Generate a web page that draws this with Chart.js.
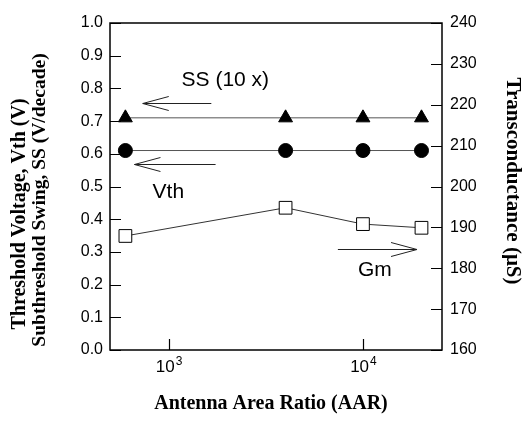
<!DOCTYPE html>
<html>
<head>
<meta charset="utf-8">
<script src="https://cdn.jsdelivr.net/npm/chart.js@4/dist/chart.umd.min.js"></script>
<style>
  html, body { margin: 0; padding: 0; background: #fff; }
  #wrap { width: 527px; height: 424px; }
</style>
</head>
<body>
<div id="wrap"><canvas id="chart"></canvas></div>
<script>
// antenna area ratio of each device
const aar = [600, 4000, 10000, 20000];
// subthreshold swing (x10), threshold voltage, transconductance
const ssValues = [0.71, 0.71, 0.71, 0.71];
const vthValues = [0.61, 0.61, 0.61, 0.61];
const gmValues = [187.9, 194.8, 190.8, 189.9];

const xTickValues = [1000, 10000];
const xTickBase = ['10', '10'];
const xTickExp = ['3', '4'];
const leftTicks = [0, 0.1, 0.2, 0.3, 0.4, 0.5, 0.6, 0.7, 0.8, 0.9, 1.0];
const rightTicks = [160, 170, 180, 190, 200, 210, 220, 230, 240];

// annotation labels and arrows (data coords)
const noteTexts = ['SS (10 x)', 'Vth', 'Gm'];
const noteX = [1167, 828, 9418];
const noteY = [0.826, 0.483, 179.6];
const noteAxis = ['y', 'y', 'y2'];
const arrowFromX = [1660, 1746, 7431];
const arrowToX = [737, 668, 18970];
const arrowY = [0.754, 0.569, 184.7];
const arrowAxis = ['y', 'y', 'y2'];

const sansFont = '"Liberation Sans", Arial, Helvetica, sans-serif';
const serifFont = '"Liberation Serif", "Times New Roman", Times, serif';

const toPoints = function (vals) {
    return aar.map((x, i) => ({ x: x, y: vals[i] }));
};

const framePlugin = {
    id: 'frame',
    afterDatasetsDraw(chart) {
        const ctx = chart.ctx;
        const a = chart.chartArea;
        const xs = chart.scales.x;
        const yl = chart.scales.y;
        const yr = chart.scales.y2;
        ctx.save();
        ctx.strokeStyle = '#000';
        ctx.lineWidth = 1.5;
        ctx.strokeRect(a.left, a.top, a.right - a.left, a.bottom - a.top);

        // inward ticks
        ctx.lineWidth = 1.2;
        ctx.beginPath();
        for (const v of leftTicks) {
            const y = Math.round(yl.getPixelForValue(v)) + 0.5;
            ctx.moveTo(a.left, y);
            ctx.lineTo(a.left + 11, y);
        }
        for (const v of rightTicks) {
            const y = Math.round(yr.getPixelForValue(v)) + 0.5;
            ctx.moveTo(a.right, y);
            ctx.lineTo(a.right - 11, y);
        }
        for (const v of xTickValues) {
            const x = Math.round(xs.getPixelForValue(v)) + 0.5;
            ctx.moveTo(x, a.bottom);
            ctx.lineTo(x, a.bottom - 11);
        }
        ctx.stroke();

        // x tick labels with superscript
        ctx.fillStyle = '#000';
        ctx.textBaseline = 'alphabetic';
        xTickValues.forEach((v, i) => {
            const x = xs.getPixelForValue(v);
            ctx.font = '17px ' + sansFont;
            const w1 = ctx.measureText(xTickBase[i]).width;
            ctx.font = '12px ' + sansFont;
            const w2 = ctx.measureText(xTickExp[i]).width;
            const start = x - (w1 + w2) / 2;
            ctx.font = '17px ' + sansFont;
            ctx.textAlign = 'left';
            ctx.fillText(xTickBase[i], start, a.bottom + 22);
            ctx.font = '12px ' + sansFont;
            ctx.fillText(xTickExp[i], start + w1 + 1, a.bottom + 15);
        });

        // annotations
        ctx.font = '21px ' + sansFont;
        ctx.textAlign = 'left';
        ctx.textBaseline = 'middle';
        noteTexts.forEach((t, i) => {
            const sc = chart.scales[noteAxis[i]];
            ctx.fillText(t, xs.getPixelForValue(noteX[i]), sc.getPixelForValue(noteY[i]));
        });
        ctx.strokeStyle = '#222';
        ctx.lineWidth = 1;
        arrowFromX.forEach((fx, i) => {
            const sc = chart.scales[arrowAxis[i]];
            const y = Math.round(sc.getPixelForValue(arrowY[i])) + 0.5;
            const x0 = xs.getPixelForValue(fx);
            const x1 = xs.getPixelForValue(arrowToX[i]);
            const dir = x1 > x0 ? 1 : -1;
            ctx.beginPath();
            ctx.moveTo(x0, y);
            ctx.lineTo(x1, y);
            ctx.moveTo(x1 - dir * 26, y - 7);
            ctx.lineTo(x1, y);
            ctx.lineTo(x1 - dir * 26, y + 7);
            ctx.stroke();
        });

        // axis titles
        ctx.font = 'bold 20px ' + serifFont;
        ctx.textAlign = 'center';
        ctx.textBaseline = 'middle';
        ctx.fillText('Antenna Area Ratio (AAR)', 271, 404);

        ctx.save();
        ctx.rotate(-Math.PI / 2);
        ctx.font = 'bold 20px ' + serifFont;
        ctx.fillText('Threshold Voltage, Vth (V)', -214, 20);
        ctx.font = 'bold 19.5px ' + serifFont;
        ctx.fillText('Subthreshold Swing, SS (V/decade)', -200, 40);
        ctx.restore();

        ctx.save();
        ctx.translate(512, 181);
        ctx.rotate(Math.PI / 2);
        ctx.font = 'bold 21px ' + serifFont;
        ctx.fillText('Transconductance (\u03BCS)', 0, 0);
        ctx.restore();

        ctx.restore();
    }
};

const ctx = document.getElementById('chart');

const chart = new Chart(ctx, {
    type: 'line',
    data: {
        datasets: [
            {
                data: toPoints(ssValues),
                yAxisID: 'y',
                borderColor: '#555',
                borderWidth: 1,
                pointStyle: 'triangle',
                pointRadius: 8,
                pointBackgroundColor: '#000',
                pointBorderColor: '#000',
                pointBorderWidth: 1
            },
            {
                data: toPoints(vthValues),
                yAxisID: 'y',
                borderColor: '#555',
                borderWidth: 1,
                pointStyle: 'circle',
                pointRadius: 7,
                pointBackgroundColor: '#000',
                pointBorderColor: '#000',
                pointBorderWidth: 1
            },
            {
                data: toPoints(gmValues),
                yAxisID: 'y2',
                borderColor: '#333',
                borderWidth: 1,
                pointStyle: 'rect',
                pointRadius: 9,
                pointBackgroundColor: '#fff',
                pointBorderColor: '#000',
                pointBorderWidth: 1
            }
        ]
    },
    options: {
        responsive: true,
        maintainAspectRatio: false,
        animation: false,
        layout: { padding: { top: 23, left: 0, right: 0, bottom: 0 } },
        scales: {
            x: {
                type: 'logarithmic',
                min: 500,
                max: 25500,
                position: 'bottom',
                grid: { display: false, drawTicks: false },
                border: { display: false },
                ticks: { display: false },
                afterFit: (s) => { s.height = 74; }
            },
            y: {
                min: 0,
                max: 1,
                position: 'left',
                grid: { display: false, drawTicks: false },
                border: { display: false },
                afterBuildTicks: (s) => { s.ticks = leftTicks.map(v => ({ value: v })); },
                ticks: {
                    color: '#000',
                    padding: 7,
                    font: { family: sansFont, size: 16 },
                    callback: (v) => v.toFixed(1)
                },
                afterFit: (s) => { s.width = 110; }
            },
            y2: {
                min: 160,
                max: 240,
                position: 'right',
                grid: { display: false, drawTicks: false },
                border: { display: false },
                afterBuildTicks: (s) => { s.ticks = rightTicks.map(v => ({ value: v })); },
                ticks: {
                    color: '#000',
                    padding: 8,
                    font: { family: sansFont, size: 16 },
                    callback: (v) => String(v)
                },
                afterFit: (s) => { s.width = 85; }
            }
        },
        plugins: {
            legend: { display: false },
            tooltip: { enabled: false }
        }
    },
    plugins: [framePlugin]
});
</script>
</body>
</html>
